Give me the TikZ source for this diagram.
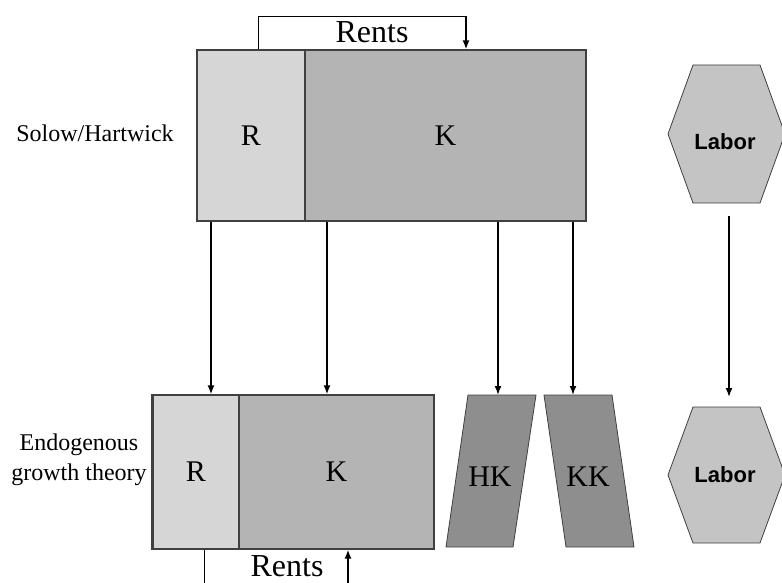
\documentclass[tikz,border=0pt]{standalone}
\usepackage{fontspec}
\setmainfont{Liberation Serif}
\newfontfamily\labfont{Liberation Sans}
\usepackage{tikz}
\usetikzlibrary{
    calc,
    arrows.meta,
    positioning
}
\definecolor{rfill}{HTML}{D6D6D6}
\definecolor{kfill}{HTML}{B4B4B4}
\definecolor{hfill}{HTML}{8E8E8E}
\definecolor{lfill}{HTML}{C4C4C4}
\definecolor{edge}{HTML}{404040}
\tikzset{
    box/.style={draw=edge, line width=1.2pt, inner sep=0pt, font=\fontsize{30}{34}\selectfont},
    rbox/.style={box, fill=rfill},
    kbox/.style={box, fill=kfill},
    arr/.style={-{Latex[length=9pt,width=7pt]}, line width=1.6pt},
    side/.style={font=\fontsize{24}{30}\selectfont, align=center},
    rents/.style={font=\fontsize{32}{36}\selectfont}
}

\begin{document}
\begin{tikzpicture}[x=1pt,y=-1pt]
    \useasboundingbox (0,0) rectangle (782,583);
    % upper row
    \node[rbox, minimum width=108pt, minimum height=171pt] (R1) at (251,135.5) {R};
    \node[kbox, minimum width=281pt, minimum height=171pt] (K1) at (445.5,135.5) {K};
    \node[side] (SH) at (95,133) {Solow/Hartwick};
    % lower row
    \node[rbox, minimum width=86pt, minimum height=154pt] (R2) at (196,472) {R};
    \node[kbox, minimum width=195pt, minimum height=154pt] (K2) at (336.5,472) {K};
    \draw[edge, line width=3pt] (R2.north west) -- (R2.south west);
    \node[side] (EG) at (79,460) {Endogenous\\growth theory};
    \draw[draw=edge, fill=hfill, line width=0.8pt] (468,395) -- (536,395) -- (513,547) -- (446,547) -- cycle;
    \draw[draw=edge, fill=hfill, line width=0.8pt] (544,395) -- (612,395) -- (634,547) -- (566,547) -- cycle;
    \node[font=\fontsize{30}{34}\selectfont] (HK) at (490,477) {HK};
    \node[font=\fontsize{30}{34}\selectfont] (KK) at (588,477) {KK};
    \coordinate (HKtop) at (498,395);
    \coordinate (KKtop) at (573,395);
    % labor
    \draw[draw=edge, fill=lfill, line width=0.8pt] (693,65) -- (760,65) -- (785,134) -- (760,203) -- (693,203) -- (668,134) -- cycle;
    \draw[draw=edge, fill=lfill, line width=0.8pt] (693,407) -- (760,407) -- (785,475) -- (760,543) -- (693,543) -- (668,475) -- cycle;
    \node[font=\labfont\bfseries\fontsize{22}{26}\selectfont] (L1) at (725,142) {Labor};
    \node[font=\labfont\bfseries\fontsize{22}{26}\selectfont] (L2) at (725,475) {Labor};
    \coordinate (L1b) at (729,216);
    \coordinate (L2t) at (729,397);
    % flows
    \draw[arr] (R1.south -| 211,0) -- (R2.north -| 211,0);
    \draw[arr] (K1.south -| 327,0) -- (K2.north -| 327,0);
    \draw[arr] (K1.south -| HKtop) -- (HKtop);
    \draw[arr] (K1.south -| KKtop) -- (KKtop);
    \draw[arr] (L1b) -- (L2t);
    % rents
    \draw[line width=0.8pt] (R1.north -| 258,0) -- (258,16) -- (466,16);
    \draw[arr] (466,16) -- (K1.north -| 466,0);
    \node[rents] (T1) at (372,32) {Rents};
    \draw[line width=0.8pt] (R2.south -| 204,0) -- (204,590);
    \draw[arr] (348,590) -- (K2.south -| 348,0);
    \node[rents] (T2) at (287,566) {Rents};
\end{tikzpicture}
\end{document}
